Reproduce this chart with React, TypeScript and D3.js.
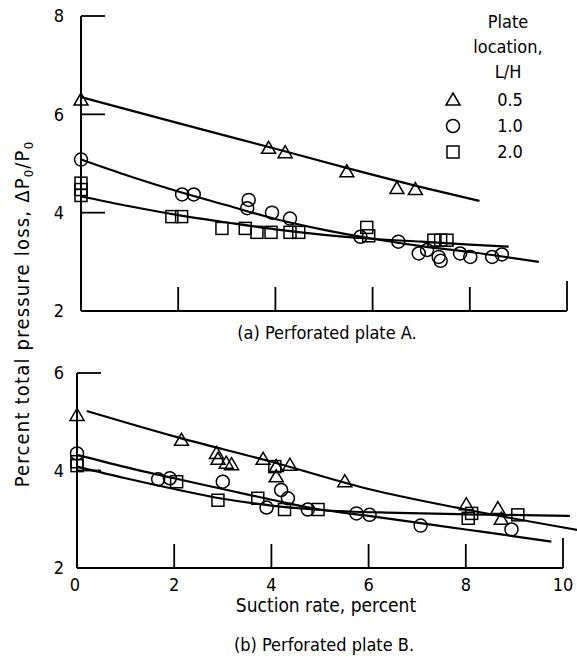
import React, { useEffect, useRef } from "react";
import * as d3 from "d3";

type Pt = [number, number];

// x ticks shared by both panels (suction rate, percent)
const xTicks = [0, 2, 4, 6, 8, 10];
const yTicksA = [2, 4, 6, 8];
const yTicksB = [2, 4, 6];

// (a) Perforated plate A
const aTriangles: Pt[] = [[0, 6.29], [3.86, 5.31], [4.2, 5.22], [5.47, 4.83], [6.5, 4.49], [6.88, 4.47]];
const aCircles: Pt[] = [
  [0, 5.08], [2.08, 4.37], [2.32, 4.37], [3.45, 4.26], [3.42, 4.09], [3.93, 4.0], [4.3, 3.88],
  [5.75, 3.51], [6.53, 3.41], [6.95, 3.17], [7.12, 3.24], [7.36, 3.1], [7.4, 3.02], [7.8, 3.17],
  [8.01, 3.1], [8.46, 3.1], [8.66, 3.15],
];
const aSquares: Pt[] = [
  [0, 4.6], [0, 4.47], [0, 4.35], [1.87, 3.92], [2.07, 3.92], [2.9, 3.68], [3.38, 3.68], [3.62, 3.6],
  [3.91, 3.6], [4.3, 3.6], [4.48, 3.6], [5.88, 3.7], [5.92, 3.53], [7.26, 3.44], [7.4, 3.44], [7.53, 3.44],
];
const aTriFit: Pt[] = [[0, 6.35], [2, 5.82], [4, 5.3], [5.5, 4.9], [7, 4.52], [8.2, 4.24]];
const aCirFit: Pt[] = [[0, 5.08], [1, 4.74], [2, 4.43], [3, 4.15], [4, 3.87], [5, 3.65], [6, 3.47], [7, 3.32], [8, 3.2], [9.42, 3.0]];
const aSqFit: Pt[] = [[0, 4.33], [1, 4.13], [2, 3.95], [3, 3.8], [4, 3.66], [5, 3.55], [6, 3.47], [7, 3.41], [8, 3.35], [8.8, 3.31]];

// (b) Perforated plate B
const bTriangles: Pt[] = [
  [0, 5.13], [2.15, 4.62], [2.87, 4.35], [2.9, 4.23], [3.07, 4.15], [3.18, 4.12], [3.83, 4.23],
  [4.1, 4.08], [4.38, 4.11], [4.1, 3.87], [5.51, 3.77], [8.01, 3.3], [8.66, 3.22], [8.73, 3.0],
];
const bCircles: Pt[] = [
  [0, 4.35], [1.67, 3.82], [1.91, 3.84], [3.0, 3.77], [3.9, 3.24], [4.2, 3.6], [4.34, 3.43],
  [4.75, 3.2], [5.75, 3.12], [6.02, 3.09], [7.07, 2.87], [8.94, 2.79],
];
const bSquares: Pt[] = [
  [0, 4.18], [0, 4.1], [2.05, 3.77], [2.9, 3.39], [3.72, 3.43], [4.07, 4.08], [4.27, 3.2],
  [4.96, 3.2], [8.05, 3.02], [8.12, 3.12], [9.07, 3.09],
];
const bTriFit: Pt[] = [[0.2, 5.22], [2, 4.7], [4, 4.18], [6, 3.62], [8, 3.2], [10.3, 2.78]];
const bCirFit: Pt[] = [[0, 4.32], [1, 4.07], [2, 3.84], [3, 3.62], [4, 3.4], [5, 3.2], [6, 3.07], [7, 2.93], [8, 2.79], [9, 2.65], [9.76, 2.54]];
const bSqFit: Pt[] = [[0, 4.08], [1, 3.84], [2, 3.62], [3, 3.42], [4, 3.28], [5, 3.19], [6.6, 3.13], [8, 3.1], [10.14, 3.07]];

const legendLabels = ["0.5", "1.0", "2.0"];
const legendShapes = ["tri", "cir", "sq"];

const FONT = "'Liberation Sans Narrow', 'DejaVu Sans Condensed', 'Roboto', sans-serif";

const App = () => {
  const ref = useRef<SVGSVGElement>(null);

  useEffect(() => {
    const svg = d3.select(ref.current);
    svg.selectAll("*").remove();
    svg.attr("font-family", FONT);

    const marker = (g: any, shape: string, x: number, y: number) => {
      if (shape === "cir") {
        g.append("circle").attr("cx", x).attr("cy", y).attr("r", 6.5);
      } else if (shape === "sq") {
        g.append("rect").attr("x", x - 6).attr("y", y - 6).attr("width", 12).attr("height", 12);
      } else {
        g.append("path").attr("d", `M${x},${y - 7}L${x + 7},${y + 5}L${x - 7},${y + 5}Z`);
      }
    };

    const panel = (
      x0: number, x1: number, yTop: number, yBot: number, yMax: number, yTicks: number[],
      fits: Pt[][], sets: [Pt[], string][], tickLabels: boolean
    ) => {
      const x = d3.scaleLinear().domain([0, 10]).range([x0, x1]);
      const y = d3.scaleLinear().domain([2, yMax]).range([yBot, yTop]);
      const g = svg.append("g").attr("stroke", "#000").attr("fill", "none");

      // axes frame
      g.append("line").attr("x1", x(0)).attr("x2", x(0)).attr("y1", y(yMax)).attr("y2", y(2)).attr("stroke-width", 2);
      g.append("line").attr("x1", x(0)).attr("x2", x(10)).attr("y1", y(2)).attr("y2", y(2)).attr("stroke-width", 2);
      yTicks.filter((t) => t > 2).forEach((t) => {
        g.append("line").attr("x1", x(0)).attr("x2", x(0) + 24).attr("y1", y(t)).attr("y2", y(t)).attr("stroke-width", 1.8);
      });
      xTicks.filter((t) => t > 0).forEach((t) => {
        g.append("line").attr("x1", x(t)).attr("x2", x(t)).attr("y1", y(2)).attr("y2", y(2) - (t === 10 ? 30 : 24)).attr("stroke-width", 1.8);
      });

      const line = d3.line<Pt>().x((d) => x(d[0])).y((d) => y(d[1])).curve(d3.curveMonotoneX);
      fits.forEach((f) => g.append("path").attr("d", line(f)).attr("stroke-width", 2.2));

      const mg = g.append("g").attr("stroke-width", 1.5);
      sets.forEach(([pts, shape]) => pts.forEach((p) => marker(mg, shape, x(p[0]), y(p[1]))));

      const t = svg.append("g").attr("font-size", 18).attr("fill", "#000");
      yTicks.forEach((v) => {
        t.append("text").attr("x", 64).attr("y", y(v)).attr("dy", "0.35em").attr("text-anchor", "end").text(v);
      });
      if (tickLabels) {
        xTicks.forEach((v) => {
          t.append("text").attr("x", x(v) - (v === 0 ? 2 : 0)).attr("y", y(2) + 17).attr("dy", "0.35em").attr("text-anchor", "middle").text(v);
        });
      }
    };

    panel(81, 567, 16, 311, 8, yTicksA, [aTriFit, aCirFit, aSqFit], [[aTriangles, "tri"], [aCircles, "cir"], [aSquares, "sq"]], false);
    panel(77, 563, 373, 568, 6, yTicksB, [bTriFit, bCirFit, bSqFit], [[bTriangles, "tri"], [bCircles, "cir"], [bSquares, "sq"]], true);

    const txt = svg.append("g").attr("fill", "#000");
    txt.append("text").attr("x", 327).attr("y", 339).attr("font-size", 18).attr("text-anchor", "middle").text("(a) Perforated plate A.");
    txt.append("text").attr("x", 326).attr("y", 612).attr("font-size", 19).attr("text-anchor", "middle").text("Suction rate, percent");
    txt.append("text").attr("x", 324).attr("y", 651).attr("font-size", 18).attr("text-anchor", "middle").text("(b) Perforated plate B.");

    // y axis title
    const yt = txt.append("text").attr("transform", "translate(29,314) rotate(-90)").attr("font-size", 20)
      .attr("letter-spacing", 1.2).attr("text-anchor", "middle");
    yt.append("tspan").text("Percent total pressure loss, \u0394P");
    yt.append("tspan").attr("font-size", 13).attr("dy", 4).text("0");
    yt.append("tspan").attr("dy", -4).text("/P");
    yt.append("tspan").attr("font-size", 13).attr("dy", 4).text("0");

    // legend
    const lg = svg.append("g").attr("font-size", 18);
    ["Plate", "location,", "L/H"].forEach((s, i) => {
      lg.append("text").attr("x", 508).attr("y", 28 + i * 25).attr("text-anchor", "middle").text(s);
    });
    const lm = lg.append("g").attr("stroke", "#000").attr("fill", "none").attr("stroke-width", 1.5);
    legendLabels.forEach((s, i) => {
      marker(lm, legendShapes[i], 453, 100 + i * 26);
      lg.append("text").attr("x", 510).attr("y", 100 + i * 26).attr("dy", "0.35em").attr("text-anchor", "middle").text(s);
    });
  }, []);

  return (
    <svg ref={ref} width={577} height={662} style={{ position: "absolute", left: 0, top: 0, background: "#fff" }} />
  );
};

export default App;
